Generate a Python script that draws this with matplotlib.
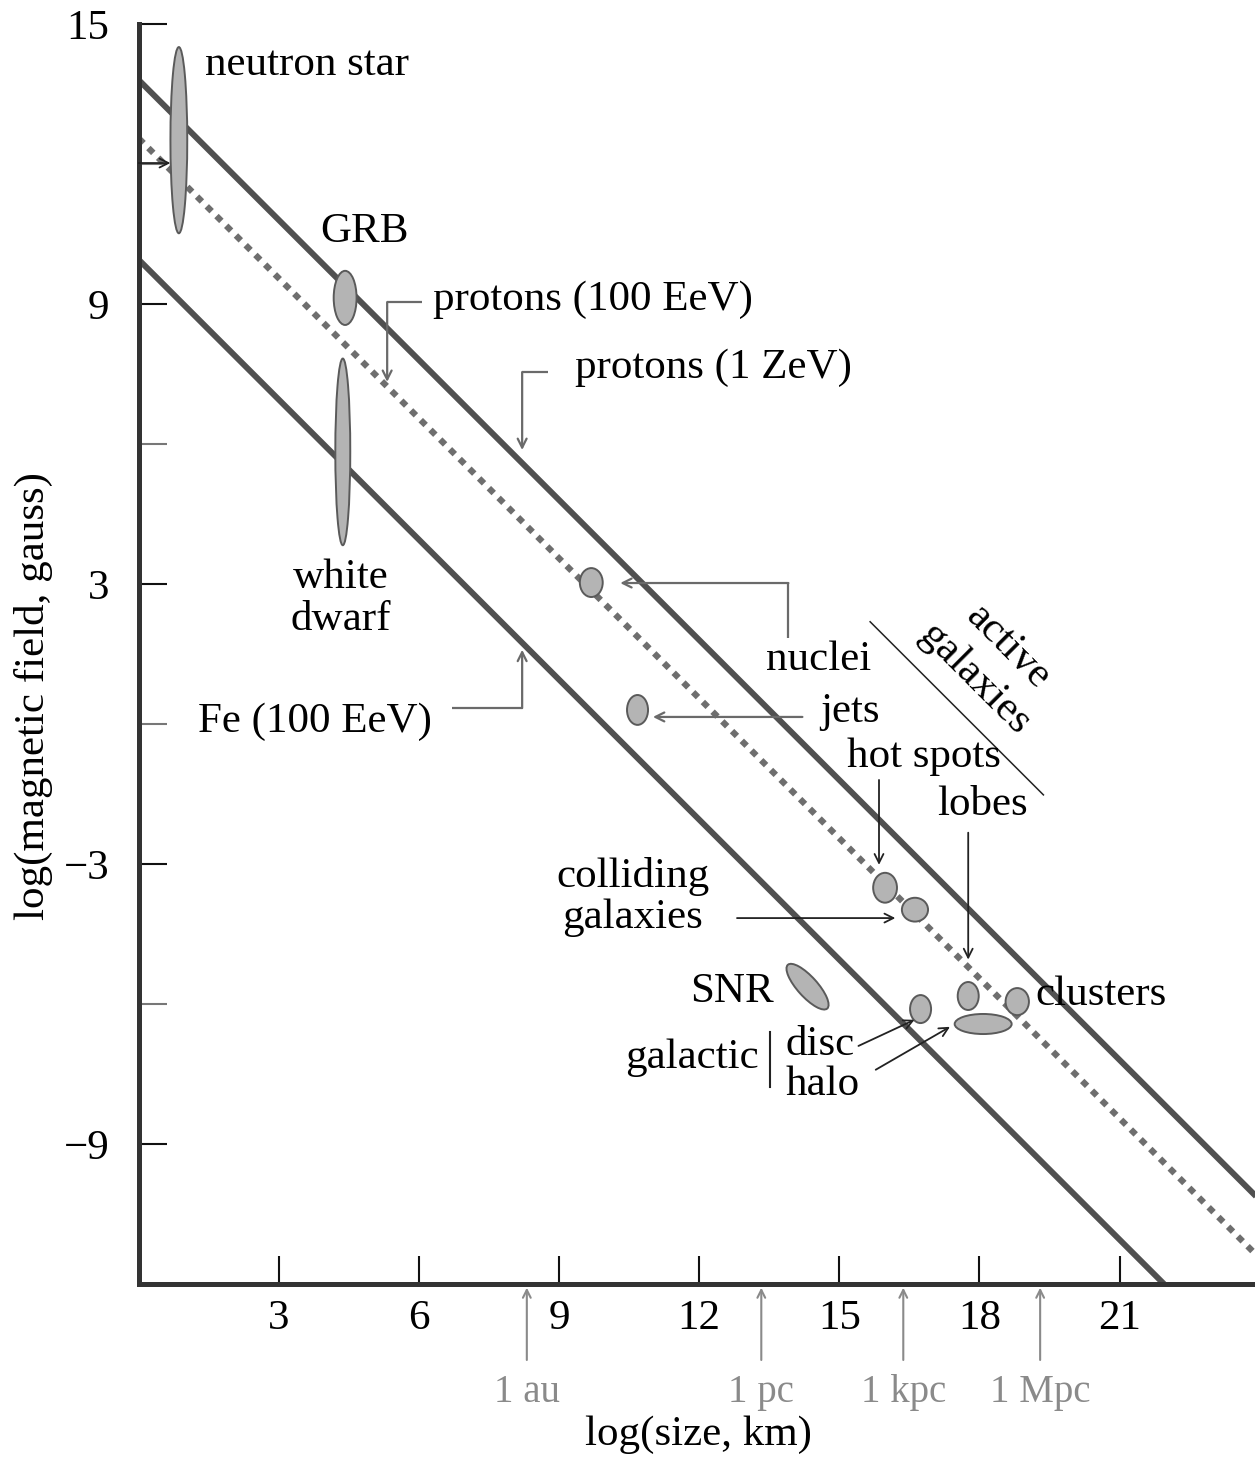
import numpy as np
import matplotlib.pyplot as plt
from matplotlib.patches import Ellipse

plt.rcParams['font.family'] = ['Liberation Serif', 'DejaVu Serif']
plt.rcParams['axes.unicode_minus'] = True

# ---------------- data ----------------
# sources: log(size, km), log(B, gauss), ellipse width/height (data units), tilt
src_names = ['neutron star', 'GRB', 'white dwarf', 'nuclei', 'jets', 'hot spots',
             'colliding galaxies', 'SNR', 'disc', 'lobes', 'clusters', 'halo']
src_x = [0.86, 4.42, 4.37, 9.69, 10.68, 15.98, 16.62, 14.32, 16.74, 17.76, 18.81, 18.08]
src_y = [12.51, 9.13, 5.83, 3.03, 0.30, -3.51, -3.98, -5.63, -6.11, -5.83, -5.95, -6.43]
src_w = [0.36, 0.49, 0.32, 0.49, 0.45, 0.51, 0.56, 1.26, 0.45, 0.45, 0.50, 1.22]
src_h = [3.99, 1.16, 4.00, 0.62, 0.64, 0.64, 0.51, 0.43, 0.60, 0.60, 0.58, 0.43]
src_angle = [0, 0, 0, 0, 0, 0, 0, -48, 0, 0, 0, 0]

# Hillas lines: log B = b0 - log R
line_labels = ['protons (1 ZeV)', 'protons (100 EeV)', 'Fe (100 EeV)']
line_b0 = [13.8, 12.55, 9.95]

# x axis marks
x_ticks = [3, 6, 9, 12, 15, 18, 21]
y_ticks = [-9, -3, 3, 9, 15]
y_minor = [-6, 0, 6, 12]
dist_names = ['1 au', '1 pc', '1 kpc', '1 Mpc']
dist_logkm = [8.31, 13.33, 16.37, 19.30]

FS = 31
LINE_C = '#505050'
ARR_C = '#6a6a6a'

fig = plt.figure(figsize=(12.55, 14.62), dpi=100)
ax = fig.add_axes([0.1105, 0.1218, 0.8895, 0.8618])
ax.set_xlim(0, 23.9)
ax.set_ylim(-12, 15)

for s in ['top', 'right']:
    ax.spines[s].set_visible(False)
for s in ['left', 'bottom']:
    ax.spines[s].set_linewidth(3.6)
    ax.spines[s].set_color('#333333')

ax.set_xticks(x_ticks)
ax.set_yticks(y_ticks)
ax.set_yticks(y_minor, minor=True)
ax.tick_params(axis='x', direction='in', length=20, width=1.5, color='#111111',
               labelsize=FS, pad=11)
ax.tick_params(axis='y', which='major', direction='in', length=20, width=1.5,
               color='#111111', labelsize=FS, pad=21)
ax.tick_params(axis='y', which='minor', direction='in', length=20, width=1.5,
               color='#777777')

# ---------------- Hillas lines ----------------
xx = np.array([0, 24.5])
ax.plot(xx, line_b0[0] - xx, color=LINE_C, lw=4.3, solid_capstyle='butt', zorder=2)
ax.plot(xx, line_b0[1] - xx, color='#6e6e6e', lw=4.5, dashes=(1.1, 1.1),
        dash_capstyle='butt', zorder=2)
ax.plot(xx, line_b0[2] - xx, color=LINE_C, lw=4.3, solid_capstyle='butt', zorder=2)

# ---------------- sources ----------------
for x, y, w, h, a in zip(src_x, src_y, src_w, src_h, src_angle):
    ax.add_patch(Ellipse((x, y), w, h, angle=a, facecolor='#b4b4b4',
                         edgecolor='#5a5a5a', lw=1.4, zorder=4))


def txt(x, y, s, **kw):
    kw.setdefault('fontsize', FS)
    kw.setdefault('va', 'baseline')
    ax.text(x, y, s, zorder=6, **kw)


def bracket(pts, color=ARR_C, lw=1.6):
    # 折线 + 末段箭头
    px = [p[0] for p in pts[:-1]]
    py = [p[1] for p in pts[:-1]]
    ax.plot(px, py, color=color, lw=lw, zorder=5, solid_capstyle='butt')
    ax.annotate('', xy=pts[-1], xytext=pts[-2],
                arrowprops=dict(arrowstyle='->', color=color, lw=lw,
                                shrinkA=0, shrinkB=0, mutation_scale=16),
                zorder=5)


# labels
txt(1.42, 13.91, 'neutron star')
txt(3.88, 10.33, 'GRB')
txt(4.33, 2.92, 'white', ha='center')
txt(4.33, 2.02, 'dwarf', ha='center')
txt(6.30, 8.88, line_labels[1])
txt(9.34, 7.41, line_labels[0])
txt(6.28, -0.17, line_labels[2], ha='right')
txt(13.43, 1.16, 'nuclei')
txt(14.59, 0.04, 'jets')
txt(15.17, -0.92, 'hot spots')
txt(17.09, -1.95, 'lobes')
txt(10.58, -3.50, 'colliding', ha='center')
txt(10.58, -4.38, 'galaxies', ha='center')
txt(11.80, -5.96, 'SNR')
txt(19.20, -6.02, 'clusters')
txt(10.41, -7.37, 'galactic')
txt(13.85, -7.09, 'disc')
txt(13.85, -7.95, 'halo')
ax.plot([13.52, 13.52], [-6.6, -7.78], color='#222222', lw=1.5, zorder=5)

# active galaxies
txt(18.61, 1.65, 'active', ha='center', va='center', rotation=-45,
    rotation_mode='anchor')
txt(17.89, 0.97, 'galaxies', ha='center', va='center', rotation=-45,
    rotation_mode='anchor')
ax.plot([15.66, 19.37], [2.19, -1.52], color='#222222', lw=1.1, zorder=5)

# bracket arrows to the lines
bracket([(6.06, 9.04), (5.32, 9.04), (5.32, 7.33)])
bracket([(8.77, 7.54), (8.21, 7.54), (8.21, 5.87)])
bracket([(6.71, 0.34), (8.21, 0.34), (8.21, 1.59)])
bracket([(13.91, 1.84), (13.91, 3.02), (10.31, 3.02)])
bracket([(14.21, 0.15), (11.01, 0.15)])
bracket([(15.85, -1.20), (15.85, -3.02)], color='#222222', lw=1.3)
bracket([(17.76, -2.33), (17.76, -5.05)], color='#222222', lw=1.3)
bracket([(12.81, -4.16), (16.20, -4.16)], color='#222222', lw=1.3)
bracket([(15.41, -6.90), (16.61, -6.34)], color='#222222', lw=1.3)
bracket([(15.78, -7.41), (17.37, -6.49)], color='#222222', lw=1.3)
# tick at 12 points to the neutron star
bracket([(0.0, 12.02), (0.68, 12.02)], color='#222222', lw=1.3)

# distance markers under the x axis
for name, lx in zip(dist_names, dist_logkm):
    ax.annotate('', xy=(lx, -12.08), xytext=(lx, -13.63),
                arrowprops=dict(arrowstyle='->', color='#8a8a8a', lw=1.5,
                                shrinkA=0, shrinkB=0, mutation_scale=14),
                annotation_clip=False)
    ax.text(lx, -14.53, name, ha='center', va='baseline', fontsize=28,
            color='#8a8a8a', clip_on=False)

fig.text(698 / 1255, 1 - 1445 / 1462, 'log(size, km)', ha='center',
         va='baseline', fontsize=FS)
fig.text(33 / 1255, 1 - 696 / 1462, 'log(magnetic field, gauss)', ha='center',
         va='center', rotation=90, fontsize=FS)

fig.savefig('out.png', dpi=100)
